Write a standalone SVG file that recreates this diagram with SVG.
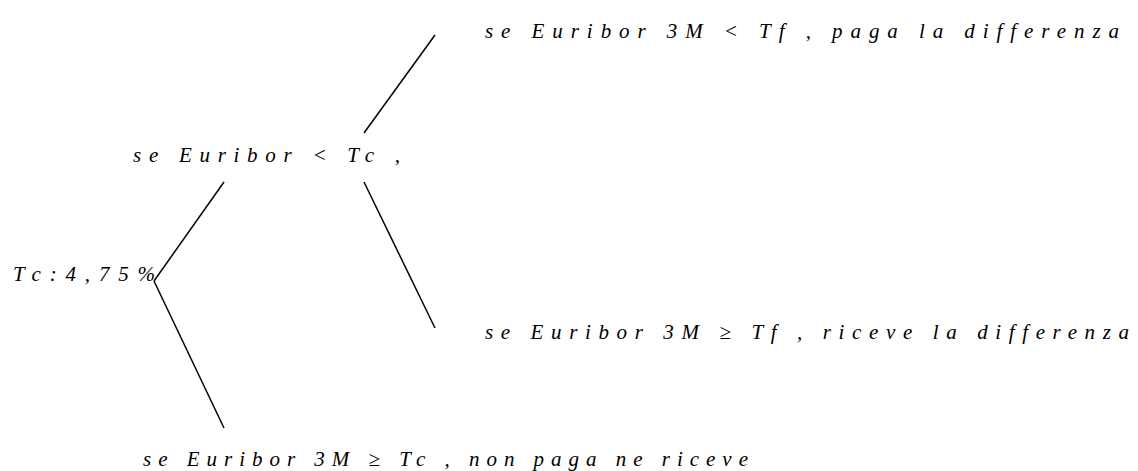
<svg xmlns="http://www.w3.org/2000/svg" width="1138" height="471" viewBox="0 0 1138 471">
<style>
text{font-family:"Liberation Serif","Times New Roman",serif;font-style:italic;font-size:21px;fill:#000}
.c{stroke:#000;stroke-width:1.5;fill:none}
</style>
<rect width="1138" height="471" fill="#fff"/>
<g id="connectors">
<line class="c" x1="435" y1="35" x2="364" y2="133"/>
<line class="c" x1="224" y1="182" x2="154" y2="281"/>
<line class="c" x1="154" y1="281" x2="224" y2="428"/>
<line class="c" x1="364" y1="182" x2="435" y2="328"/>
</g>
<g id="root"><text x="13" y="281" textLength="142" lengthAdjust="spacing">Tc:4,75%</text></g>
<g id="mid"><text x="133" y="162" textLength="267" lengthAdjust="spacing">se Euribor &lt; Tc ,</text></g>
<g id="top"><text x="485" y="38" textLength="634" lengthAdjust="spacing">se Euribor 3M &lt; Tf , paga la differenza</text></g>
<g id="right"><text x="485" y="339" textLength="644" lengthAdjust="spacing">se Euribor 3M ≥ Tf , riceve la differenza</text></g>
<g id="bottom"><text x="143" y="466" textLength="605" lengthAdjust="spacing">se Euribor 3M ≥ Tc , non paga ne riceve</text></g>
</svg>
